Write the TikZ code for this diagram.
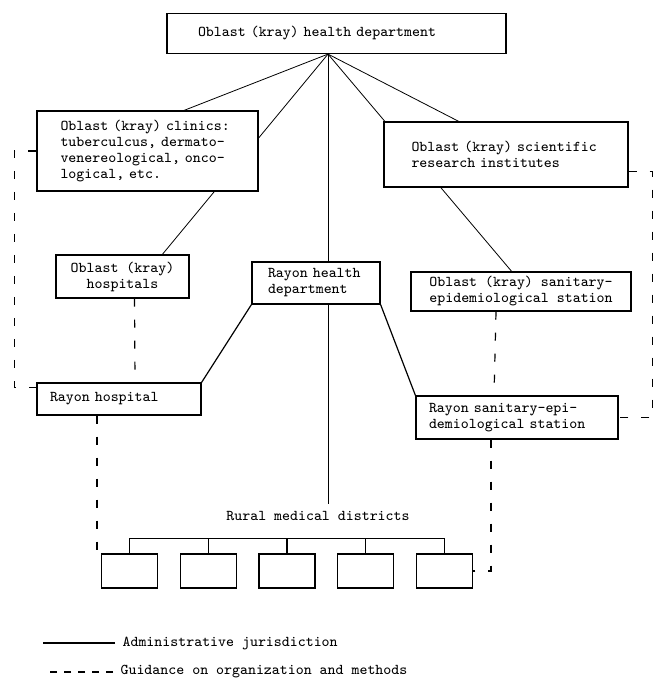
\documentclass[tikz,border=0pt]{standalone}
\usepackage{fontspec}
\usetikzlibrary{backgrounds}

\begin{document}
\begin{tikzpicture}[
  x=0.5pt, y=-0.5pt, line width=0.6pt,
  every node/.style={font=\ttfamily\fontsize{7.5}{8}\selectfont},
  unit/.style={rectangle, draw, fill=white, inner sep=0pt},
  district/.style={rectangle, draw, fill=white, minimum width=28pt, minimum height=17pt},
  guide/.style={dash pattern=on 4pt off 6.5pt}
]
\useasboundingbox (0,0) rectangle (663,688);
\node [unit, text width=138.5pt, inner xsep=15.5pt, minimum height=20pt, align=left] (top) at (336.5,33.5) {Oblast (kray) health department};
\node [unit, text width=87pt, inner xsep=11.75pt, minimum height=40pt, align=left] (clinics) at (147.5,151) {Oblast (kray) clinics:\\tuberculcus, dermato-\\venereological, onco-\\logical, etc.};
\node [unit, text width=94.5pt, inner xsep=13.75pt, minimum height=32.5pt, align=left] (sci) at (506,154.5) {Oblast (kray) scientific\\research institutes};
\node [unit, minimum width=66.5pt, minimum height=21.5pt, align=center] (ohosp) at (122.5,276.5) {Oblast (kray)\\hospitals};
\node [unit, text width=48pt, inner xsep=8pt, minimum height=21pt, align=left] (rhd) at (316,283) {Rayon health\\department};
\node [unit, minimum width=110pt, minimum height=19.5pt, align=center] (osan) at (521,291.5) {Oblast (kray) sanitary-\\epidemiological station};
\node [unit, text width=69pt, inner xsep=6.5pt, minimum height=16pt, align=left] (rhosp) at (119,399) {Rayon hospital};
\node [unit, text width=88pt, inner xsep=6.5pt, minimum height=21.5pt, align=left] (rsan) at (517,417.5) {Rayon sanitary-epi-\\demiological station};
\node (rural) at (318,516) {Rural medical districts};
\foreach \i in {1,...,5}
  \node [district] (d\i) at ({129.5+(\i-1)*78.75},571) {};

\coordinate (hub) at ([xshift=-4.25pt]top.south);
\begin{scope}[on background layer]
  \draw (hub) -- (clinics.48);
  \draw (hub) -- (ohosp.29);
  \draw (hub) -- (hub |- rural.north);
  \draw (hub) -- (sci.145);
  \draw (hub) -- (osan.115);
\end{scope}
\draw (rhd.south west) -- (rhosp.north east);
\draw (rhd.south east) -- (rsan.north west);
\draw (d1.north) -- ++(0,-15) -| (d5.north);
\foreach \i in {2,3,4}
  \draw (d\i.north) -- ++(0,-15);

\draw [guide] (clinics.west) -- ++(-11pt,0) |- (rhosp.172);
\draw [guide] ([xshift=6pt]ohosp.south) -- ([xshift=8pt]rhosp.north);
\draw [guide] ([xshift=-11pt]rhosp.south) |- (d1.153);
\draw [guide] (sci.-8) -- ++(12pt,0) |- (rsan.east);
\draw [guide] ([xshift=-12.5pt]osan.south) -- ([xshift=-11.5pt]rsan.north);
\draw [guide] ([xshift=-13pt]rsan.south) |- (d5.east);

\node [anchor=west, inner sep=0pt] (admin) at (122,643) {Administrative jurisdiction};
\node [anchor=west, inner sep=0pt] (method) at (120,672) {Guidance on organization and methods};
\draw ([xshift=-3.5pt]admin.west) -- ++(-36pt,0);
\draw [guide, dash pattern=on 3.5pt off 3.5pt] ([xshift=-3.5pt]method.west) -- ++(-35pt,0);
\end{tikzpicture}
\end{document}
